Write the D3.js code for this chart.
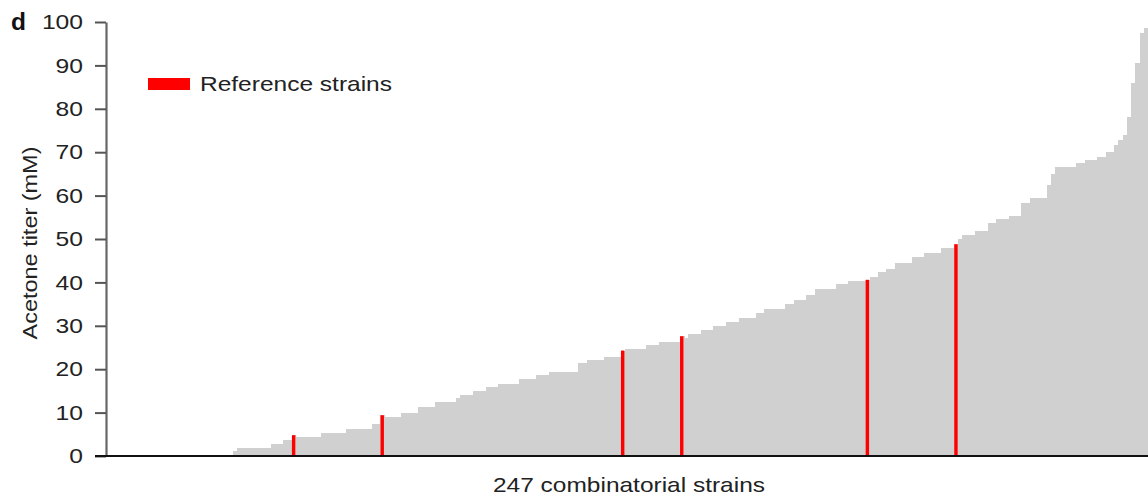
<!DOCTYPE html>
<html>
<head>
<meta charset="utf-8">
<script src="https://cdn.jsdelivr.net/npm/d3@7"></script>
<style>
  html, body { margin: 0; padding: 0; background: #fff; }
  svg { display: block; font-family: "Liberation Sans", Arial, sans-serif; }
</style>
</head>
<body>
<svg id="chart" width="1148" height="498"></svg>
<script>
// Acetone titer (mM) of 247 combinatorial strains, sorted ascending
const titers = [
  0,0,0,0,0,0,0,0,0,0,
  0,0,0,0,0,0,0,0,0,0,
  0,0,0,0,0,0,0,0,0,0,
  1.2,1.8,1.8,1.8,1.8,1.8,1.8,1.8,1.8,2.8,
  2.8,2.8,3.8,3.8,4.8,4.3,4.3,4.3,4.3,4.3,
  4.3,5.4,5.4,5.4,5.4,5.4,5.4,6.2,6.2,6.2,
  6.2,6.2,6.2,7.3,7.3,9.4,8.9,8.9,8.9,8.9,
  10.0,10.0,10.0,10.0,11.4,11.4,11.4,11.4,12.4,12.4,
  12.4,12.4,12.4,13.3,14.1,14.1,14.1,15.0,15.0,15.0,
  16.0,16.0,16.0,16.7,16.7,16.7,16.7,16.7,17.7,17.7,
  17.7,17.7,18.7,18.7,18.7,19.4,19.4,19.4,19.4,19.4,
  19.4,19.4,21.4,21.4,22.1,22.1,22.1,22.1,22.9,22.9,
  22.9,22.9,24.3,24.7,24.7,24.7,24.7,24.7,25.6,25.6,
  25.6,26.3,26.3,26.3,26.3,26.3,27.6,27.1,28.1,28.1,
  28.1,29.0,29.0,29.0,30.0,30.0,30.0,30.9,30.9,30.9,
  31.7,31.7,31.7,31.7,32.9,32.9,33.8,33.8,33.8,33.8,
  33.8,35.0,35.0,35.9,35.9,35.9,37.0,37.0,38.4,38.4,
  38.4,38.4,38.4,39.6,39.6,39.6,40.4,40.4,40.4,40.4,
  40.6,41.3,41.3,42.5,42.5,43.2,43.2,44.4,44.4,44.4,
  44.4,45.9,45.9,45.9,46.8,46.8,46.8,46.8,47.9,47.9,
  47.9,48.8,49.9,50.9,50.9,50.9,51.8,51.8,51.8,53.6,
  53.6,54.5,54.5,54.5,55.3,55.3,55.3,58.2,58.2,59.4,
  59.4,59.4,59.4,62.4,65.0,66.7,66.7,66.7,66.7,66.7,
  67.4,67.4,68.2,68.2,68.2,69.0,69.0,70.1,70.1,71.7,
  72.8,74.0,78.1,86.0,90.5,97.5,98.6
];
// positions (in sorted order) of the reference strains
const referenceIdx = [44, 65, 122, 136, 180, 201];
const yTicks = [0, 10, 20, 30, 40, 50, 60, 70, 80, 90, 100];
const panelLabel = "d";
const yTitle = "Acetone titer (mM)";
const xTitle = "247 combinatorial strains";
const legendLabel = "Reference strains";

const svg = d3.select("#chart");
const margin = { left: 106, right: 0, top: 22, bottom: 42 };
const W = 1148, H = 498;
const FONT = 21;

const data = titers.map((v, i) => ({ i, v, ref: referenceIdx.includes(i) }));

const x = d3.scaleBand()
  .domain(data.map(d => d.i))
  .range([margin.left, W - margin.right])
  .padding(0);

const y = d3.scaleLinear()
  .domain([0, 100])
  .range([H - margin.bottom, margin.top]);

// gray bars
svg.append("g")
  .selectAll("rect")
  .data(data)
  .join("rect")
  .attr("x", d => x(d.i))
  .attr("width", x.bandwidth() + 0.6)
  .attr("y", d => y(d.v))
  .attr("height", d => y(0) - y(d.v))
  .attr("fill", "#d0d0d0")
  .attr("shape-rendering", "crispEdges");

// red reference bars
svg.append("g")
  .selectAll("rect")
  .data(data.filter(d => d.ref))
  .join("rect")
  .attr("x", d => x(d.i) + 0.3)
  .attr("width", x.bandwidth() - 0.8)
  .attr("y", d => y(d.v))
  .attr("height", d => y(0) - y(d.v))
  .attr("fill", "#ff0000");

// y axis
const yAxis = svg.append("g")
  .attr("transform", `translate(${margin.left},0)`)
  .call(d3.axisLeft(y).tickValues(yTicks).tickSize(11).tickPadding(12).tickSizeOuter(0));
yAxis.select(".domain").attr("stroke", "#666").attr("stroke-width", 2.2);
yAxis.selectAll(".tick line").attr("stroke", "#555").attr("stroke-width", 2);
yAxis.selectAll(".tick text")
  .attr("font-size", FONT)
  .attr("fill", "#222")
  .attr("font-family", "'Liberation Sans', Arial, sans-serif")
  .attr("textLength", d => String(d).length * 13.7)
  .attr("lengthAdjust", "spacingAndGlyphs");

// x baseline
svg.append("line")
  .attr("x1", 95).attr("x2", W)
  .attr("y1", y(0)).attr("y2", y(0))
  .attr("stroke", "#111").attr("stroke-width", 2);

// panel letter
svg.append("text")
  .attr("x", 11).attr("y", 30)
  .attr("font-size", 23).attr("font-weight", "bold")
  .attr("fill", "#111")
  .attr("textLength", 15)
  .attr("lengthAdjust", "spacingAndGlyphs")
  .text(panelLabel);

// y title
svg.append("text")
  .attr("transform", `translate(37,243) rotate(-90)`)
  .attr("text-anchor", "middle")
  .attr("font-size", FONT)
  .attr("fill", "#222")
  .attr("textLength", 193)
  .attr("lengthAdjust", "spacingAndGlyphs")
  .text(yTitle);

// x title
svg.append("text")
  .attr("x", 629)
  .attr("y", 492)
  .attr("text-anchor", "middle")
  .attr("font-size", FONT)
  .attr("fill", "#222")
  .attr("textLength", 272)
  .attr("lengthAdjust", "spacingAndGlyphs")
  .text(xTitle);

// legend
svg.append("rect")
  .attr("x", 148).attr("y", 78).attr("width", 42).attr("height", 12)
  .attr("fill", "#ff0000");
svg.append("text")
  .attr("x", 200).attr("y", 91)
  .attr("font-size", FONT)
  .attr("fill", "#222")
  .attr("textLength", 192)
  .attr("lengthAdjust", "spacingAndGlyphs")
  .text(legendLabel);
</script>
</body>
</html>
